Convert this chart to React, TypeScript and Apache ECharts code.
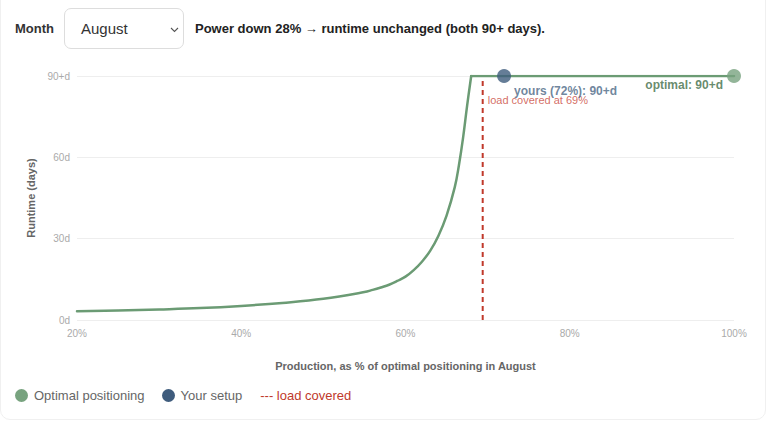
import React, { useEffect, useRef } from "react";
import * as echarts from "echarts";

// Production as % of optimal positioning, and the battery runtime it gives (days, capped at 90+)
const productionPct = [20, 25, 30, 35, 40, 45, 50, 55, 56, 57, 58, 59, 60, 61, 62, 63, 64, 65, 66, 66.5, 67, 67.5, 68];
const runtimeDays = [3.2, 3.5, 3.9, 4.4, 5.2, 6.3, 7.8, 10.3, 11.1, 12, 13, 14.4, 16, 18.4, 21.5, 25.5, 31, 38.5, 49, 57, 67, 79, 90];
// Beyond the cap the runtime stays at 90+ days
const cappedPct = [68, 100];
const cappedDays = [90, 90];

const month = "August";
const yoursPct = 72;
const yoursDays = 90;
const optimalPct = 100;
const optimalDays = 90;
const loadCoveredPct = 69.4;

const xTicks = [20, 40, 60, 80, 100];
const yTicks = [0, 30, 60, 90];

const GREEN = "#6b9b74";
const GREEN_DOT = "#78a37f";
const GREEN_TEXT = "#3f6d47";
const BLUE = "#3f5c7d";
const BLUE_TEXT = "#4a6684";
const RED = "#c0392b";
const FONT = "Helvetica, Arial, 'Liberation Sans', sans-serif";

const fmtDays = (v: number) => (v >= 90 ? "90+d" : `${v}d`);

function Chart() {
  const ref = useRef<HTMLDivElement>(null);
  useEffect(() => {
    if (!ref.current) return;
    const chart = echarts.init(ref.current, undefined, { renderer: "svg" });
    chart.setOption({
      animation: false,
      textStyle: { fontFamily: FONT },
      grid: { left: 77, right: 34, top: 76, bottom: 103 },
      xAxis: {
        type: "value",
        min: xTicks[0],
        max: xTicks[xTicks.length - 1],
        interval: 20,
        name: `Production, as % of optimal positioning in ${month}`,
        nameLocation: "middle",
        nameGap: 40,
        nameTextStyle: { color: "#666", fontSize: 11, fontWeight: "bold", fontFamily: FONT },
        axisLine: { show: false },
        axisTick: { show: false },
        axisLabel: { color: "#aaa", fontSize: 10, margin: 8, formatter: (v: number) => `${v}%` },
        splitLine: { show: false },
      },
      yAxis: {
        type: "value",
        min: yTicks[0],
        max: yTicks[yTicks.length - 1],
        interval: 30,
        name: "Runtime (days)",
        nameLocation: "middle",
        nameGap: 41,
        nameTextStyle: { color: "#666", fontSize: 11, fontWeight: "bold", fontFamily: FONT },
        axisLine: { show: false },
        axisTick: { show: false },
        axisLabel: { color: "#aaa", fontSize: 10, margin: 7, formatter: fmtDays },
        splitLine: { show: true, lineStyle: { color: "#eeeeee", width: 1 } },
      },
      series: [
        {
          type: "line",
          data: productionPct.map((x, i) => [x, runtimeDays[i]]),
          smooth: 0.4,
          showSymbol: false,
          lineStyle: { color: GREEN, width: 2.5, cap: "round", join: "round" },
          z: 2,
        },
        {
          type: "line",
          data: cappedPct.map((x, i) => [x, cappedDays[i]]),
          showSymbol: false,
          lineStyle: { color: GREEN, width: 2.5, cap: "round" },
          z: 2,
        },
        {
          type: "line",
          data: [
            [loadCoveredPct, 0],
            [loadCoveredPct, 90],
          ],
          showSymbol: false,
          lineStyle: { color: RED, width: 2, type: [5, 4] },
          z: 1,
        },
        {
          type: "scatter",
          data: [[loadCoveredPct, 90]],
          symbolSize: 0,
          label: {
            show: true,
            position: [5, 24],
            align: "left",
            verticalAlign: "middle",
            color: "#c9473a",
            fontSize: 11,
            formatter: () => `load covered at ${Math.round(loadCoveredPct)}%`,
          },
          z: 4,
        },
        {
          type: "scatter",
          data: [[yoursPct, yoursDays]],
          symbol: "circle",
          symbolSize: 14,
          itemStyle: { color: BLUE },
          label: {
            show: true,
            position: [17, 22],
            align: "left",
            verticalAlign: "middle",
            color: BLUE_TEXT,
            fontSize: 12,
            fontWeight: "bold",
            formatter: () => `yours (${yoursPct}%): ${fmtDays(yoursDays)}`,
          },
          z: 5,
        },
        {
          type: "scatter",
          data: [[optimalPct, optimalDays]],
          symbol: "circle",
          symbolSize: 14,
          itemStyle: { color: GREEN_DOT },
          label: {
            show: true,
            position: [-4, 16],
            align: "right",
            verticalAlign: "middle",
            color: GREEN_TEXT,
            fontSize: 12,
            fontWeight: "bold",
            formatter: () => `optimal: ${fmtDays(optimalDays)}`,
          },
          z: 5,
        },
      ],
    });
    return () => chart.dispose();
  }, []);
  return <div ref={ref} style={{ position: "absolute", left: 0, top: 0, width: 768, height: 423 }} />;
}

function Dot({ color }: { color: string }) {
  return (
    <span
      style={{
        display: "inline-block",
        width: 13,
        height: 13,
        borderRadius: "50%",
        background: color,
        marginRight: 6,
        verticalAlign: "-2px",
      }}
    />
  );
}

export default function App() {
  const powerDown = optimalPct - yoursPct;
  return (
    <div
      style={{
        position: "fixed",
        left: 0,
        top: 0,
        width: 768,
        height: 423,
        background: "#fff",
        fontFamily: FONT,
        overflow: "hidden",
      }}
    >
      <div
        style={{
          position: "absolute",
          left: 0,
          top: -20,
          width: 766,
          height: 440,
          border: "1px solid #f0f0f0",
          borderRadius: 10,
          boxSizing: "border-box",
        }}
      />
      <Chart />
      <div
        style={{
          position: "absolute",
          left: 15,
          top: 8,
          height: 41,
          display: "flex",
          alignItems: "center",
          fontSize: 13,
          fontWeight: "bold",
          color: "#333",
        }}
      >
        <span>Month</span>
        <div
          style={{
            marginLeft: 10,
            width: 120,
            height: 41,
            boxSizing: "border-box",
            border: "1px solid #ddd",
            borderRadius: 7,
            display: "flex",
            alignItems: "center",
            paddingLeft: 16,
            fontSize: 15,
            fontWeight: "normal",
            color: "#333",
            position: "relative",
            background: "#fff",
          }}
        >
          {month}
          <svg width="9" height="6" style={{ position: "absolute", right: 4, top: 18 }}>
            <polyline points="1,1 4.5,4.5 8,1" fill="none" stroke="#555" strokeWidth="1.1" />
          </svg>
        </div>
        <span style={{ marginLeft: 11, color: "#222" }}>
          Power down {powerDown}% → runtime unchanged (both 90+ days).
        </span>
      </div>
      <div
        style={{
          position: "absolute",
          left: 15,
          top: 388,
          fontSize: 13,
          color: "#666",
          display: "flex",
          alignItems: "center",
        }}
      >
        <Dot color={GREEN_DOT} />
        <span>Optimal positioning</span>
        <span style={{ width: 17 }} />
        <Dot color={BLUE} />
        <span>Your setup</span>
        <span style={{ width: 18 }} />
        <span style={{ color: RED }}>--- load covered</span>
      </div>
    </div>
  );
}
